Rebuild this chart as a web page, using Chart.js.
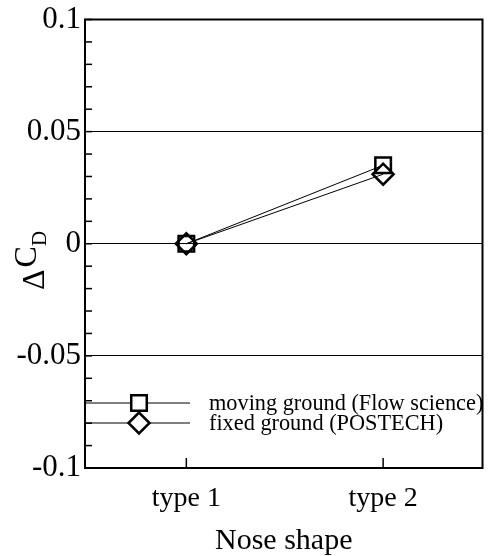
<!DOCTYPE html>
<html>
<head>
<meta charset="utf-8">
<script src="https://cdn.jsdelivr.net/npm/chart.js@4.4.0/dist/chart.umd.min.js"></script>
<style>
  html, body { margin: 0; padding: 0; background: #fff; overflow: hidden; }
  #wrap { width: 496px; height: 556px; }
</style>
</head>
<body>
<div id="wrap"><canvas id="chartNose"></canvas></div>
<script>
/* DONNEES */

const xPos = [1, 2];
const xLabels = ['type 1', 'type 2'];
const movingGround = [0, 0.035];
const fixedGround = [0, 0.031];
const seriesNames = ['moving ground (Flow science)', 'fixed ground (POSTECH)'];
const yMajor = [-0.1, -0.05, 0, 0.05, 0.1];
const yTickLabels = ['-0.1', '-0.05', '0', '0.05', '0.1'];

const serif = '"Liberation Serif", "Times New Roman", serif';

function toPoints(values) {
    return values.map((v, i) => ({ x: xPos[i], y: v }));
}

function majorIndex(v) {
    return yMajor.findIndex(m => Math.abs(m - v) < 1e-9);
}

// cadre, petits traits, legende et titre de l'axe Y
const decorations = {
    id: 'decorations',
    afterDraw(chart) {
        const ctx = chart.ctx;
        const area = chart.chartArea;
        const yScale = chart.scales.y;
        const xScale = chart.scales.x;
        ctx.save();
        ctx.strokeStyle = '#000';

        // petits traits vers l'interieur
        ctx.lineWidth = 1.5;
        yScale.ticks.forEach(t => {
            let py = yScale.getPixelForValue(t.value);
            ctx.beginPath();
            ctx.moveTo(area.left, py);
            ctx.lineTo(area.left + 7, py);
            ctx.stroke();
        });
        xScale.ticks.forEach(t => {
            let px = xScale.getPixelForValue(t.value);
            ctx.beginPath();
            ctx.moveTo(px, area.bottom);
            ctx.lineTo(px, area.bottom - 10);
            ctx.stroke();
        });

        // cadre
        ctx.lineWidth = 2;
        ctx.strokeRect(area.left, area.top, area.right - area.left, area.bottom - area.top);

        // legende
        chart.data.datasets.forEach((ds, i) => {
            let ly = area.bottom - 65 + i * 20;
            ctx.strokeStyle = '#000';
            ctx.lineWidth = 1;
            ctx.beginPath();
            ctx.moveTo(area.left, ly);
            ctx.lineTo(area.left + 105, ly);
            ctx.stroke();
            ctx.fillStyle = '#fff';
            ctx.lineWidth = ds.pointBorderWidth;
            Chart.helpers.drawPoint(ctx, {
                pointStyle: ds.pointStyle,
                radius: ds.pointRadius,
                rotation: 0,
                borderWidth: ds.pointBorderWidth
            }, area.left + 54, ly);
            ctx.fillStyle = '#000';
            ctx.font = '22.3px ' + serif;
            ctx.textAlign = 'left';
            ctx.textBaseline = 'middle';
            ctx.fillText(ds.label, area.left + 124, ly + 1);
        });

        // titre axe Y : Delta C indice D
        ctx.translate(36, 290);
        ctx.rotate(-Math.PI / 2);
        ctx.fillStyle = '#000';
        ctx.textAlign = 'left';
        ctx.textBaseline = 'alphabetic';
        ctx.font = '32px ' + serif;
        ctx.fillText('Δ', 0, 8);
        let w = ctx.measureText('Δ').width + 2;
        ctx.fillText('C', w, 0);
        w += ctx.measureText('C').width;
        ctx.font = '21px ' + serif;
        ctx.fillText('D', w, 10);
        ctx.restore();
    }
};

const pointStyleOf = ['rect', 'rectRot'];

let myChart = new Chart(document.getElementById('chartNose'), {
    type: 'line',
    data: {
        datasets: [
            {
                label: seriesNames[0],
                data: toPoints(movingGround),
                borderColor: '#000',
                borderWidth: 1,
                pointStyle: pointStyleOf[0],
                pointRadius: 11,
                pointBorderWidth: 2.5,
                pointBorderColor: '#000',
                pointBackgroundColor: 'rgba(0,0,0,0)'
            },
            {
                label: seriesNames[1],
                data: toPoints(fixedGround),
                borderColor: '#000',
                borderWidth: 1,
                pointStyle: pointStyleOf[1],
                pointRadius: 10.5,
                pointBorderWidth: 2.5,
                pointBorderColor: '#000',
                pointBackgroundColor: 'rgba(0,0,0,0)'
            }
        ]
    },
    plugins: [decorations],
    options: {
        responsive: true,
        maintainAspectRatio: false,
        animation: false,
        clip: false,
        layout: {
            padding: { top: 17, right: 7, left: 0, bottom: 0 }
        },
        scales: {
            x: {
                type: 'linear',
                min: 0.485,
                max: 2.505,
                afterBuildTicks: scale => {
                    scale.ticks = xPos.map(v => ({ value: v }));
                },
                afterFit: scale => {
                    scale.height = 88;
                },
                grid: { display: false, drawTicks: false },
                border: { display: true, color: '#000', width: 2 },
                ticks: {
                    color: '#000',
                    padding: 17,
                    maxRotation: 0,
                    font: { family: serif, size: 28, lineHeight: 1 },
                    callback: value => xLabels[xPos.indexOf(value)]
                },
                title: {
                    display: true,
                    text: 'Nose shape',
                    color: '#000',
                    padding: 0,
                    font: { family: serif, size: 30, lineHeight: 1 }
                }
            },
            y: {
                min: -0.1,
                max: 0.1,
                afterFit: scale => {
                    scale.width = 85;
                },
                grid: {
                    drawTicks: false,
                    lineWidth: 1,
                    color: c => {
                        let k = majorIndex(c.tick.value);
                        return (k > 0 && k < yMajor.length - 1) ? '#000' : 'rgba(0,0,0,0)';
                    }
                },
                border: { display: true, color: '#000', width: 2 },
                ticks: {
                    stepSize: 0.01,
                    autoSkip: false,
                    color: '#000',
                    padding: 4,
                    font: { family: serif, size: 31, lineHeight: 1 },
                    callback: value => {
                        let k = majorIndex(value);
                        return k >= 0 ? yTickLabels[k] : '';
                    }
                }
            }
        },
        plugins: {
            legend: { display: false },
            tooltip: { enabled: false }
        }
    }
});
</script>
</body>
</html>
